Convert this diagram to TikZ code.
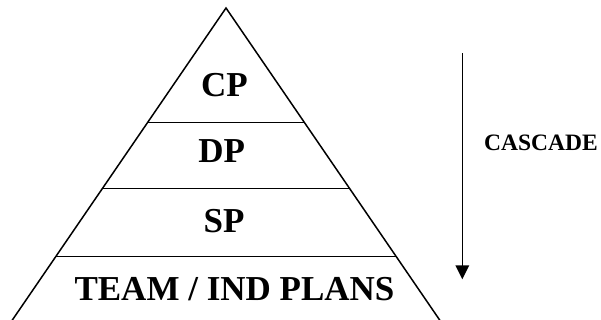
\documentclass[tikz,border=0pt]{standalone}
\usepackage{fontspec}
\setmainfont{Liberation Serif}
\usetikzlibrary{arrows.meta}
\tikzset{
  edge/.style={line width=1.5pt, line join=miter},
  tier/.style={line width=1.5pt},
  label/.style={font=\bfseries\fontsize{35}{35}\selectfont, inner sep=0pt, anchor=base},
  sidelabel/.style={font=\bfseries\fontsize{23.5}{24}\selectfont, inner sep=0pt, anchor=base},
  flow/.style={line width=1.5pt, -{Triangle[length=14pt,width=13.5pt]}}
}
\begin{document}
\begin{tikzpicture}[x=1pt,y=-1pt]
  \useasboundingbox (0,0) rectangle (601,320);
  \clip (0,0) rectangle (601,320);

  % pyramid outline (base runs below the frame)
  \coordinate (apex) at (226,8);
  \coordinate (baseL) at (5.5,330);
  \coordinate (baseR) at (446.5,330);
  \draw[edge] (baseL) -- (apex) -- (baseR);

  % tier dividers
  \coordinate (d1L) at (147.7,122.3); \coordinate (d1R) at (304.3,122.3);
  \coordinate (d2L) at (102.2,188.7); \coordinate (d2R) at (349.8,188.7);
  \coordinate (d3L) at (55.6,256.7);  \coordinate (d3R) at (396.4,256.7);
  \draw[tier] (d1L) -- (d1R);
  \draw[tier] (d2L) -- (d2R);
  \draw[tier] (d3L) -- (d3R);

  % tier labels
  \node[label] (cp) at (224.5,97) {CP};
  \node[label] (dp) at (221.7,163) {DP};
  \node[label] (sp) at (224,232) {SP};
  \node[label] (team) at (234.5,300) {TEAM / IND PLANS};

  % cascade arrow
  \coordinate (flowTop) at (462.3,53.3);
  \coordinate (flowEnd) at (462.3,279.3);
  \draw[flow] (flowTop) -- (flowEnd);
  \node[sidelabel] (cascade) at (541,150.5) {CASCADE};
\end{tikzpicture}
\end{document}
